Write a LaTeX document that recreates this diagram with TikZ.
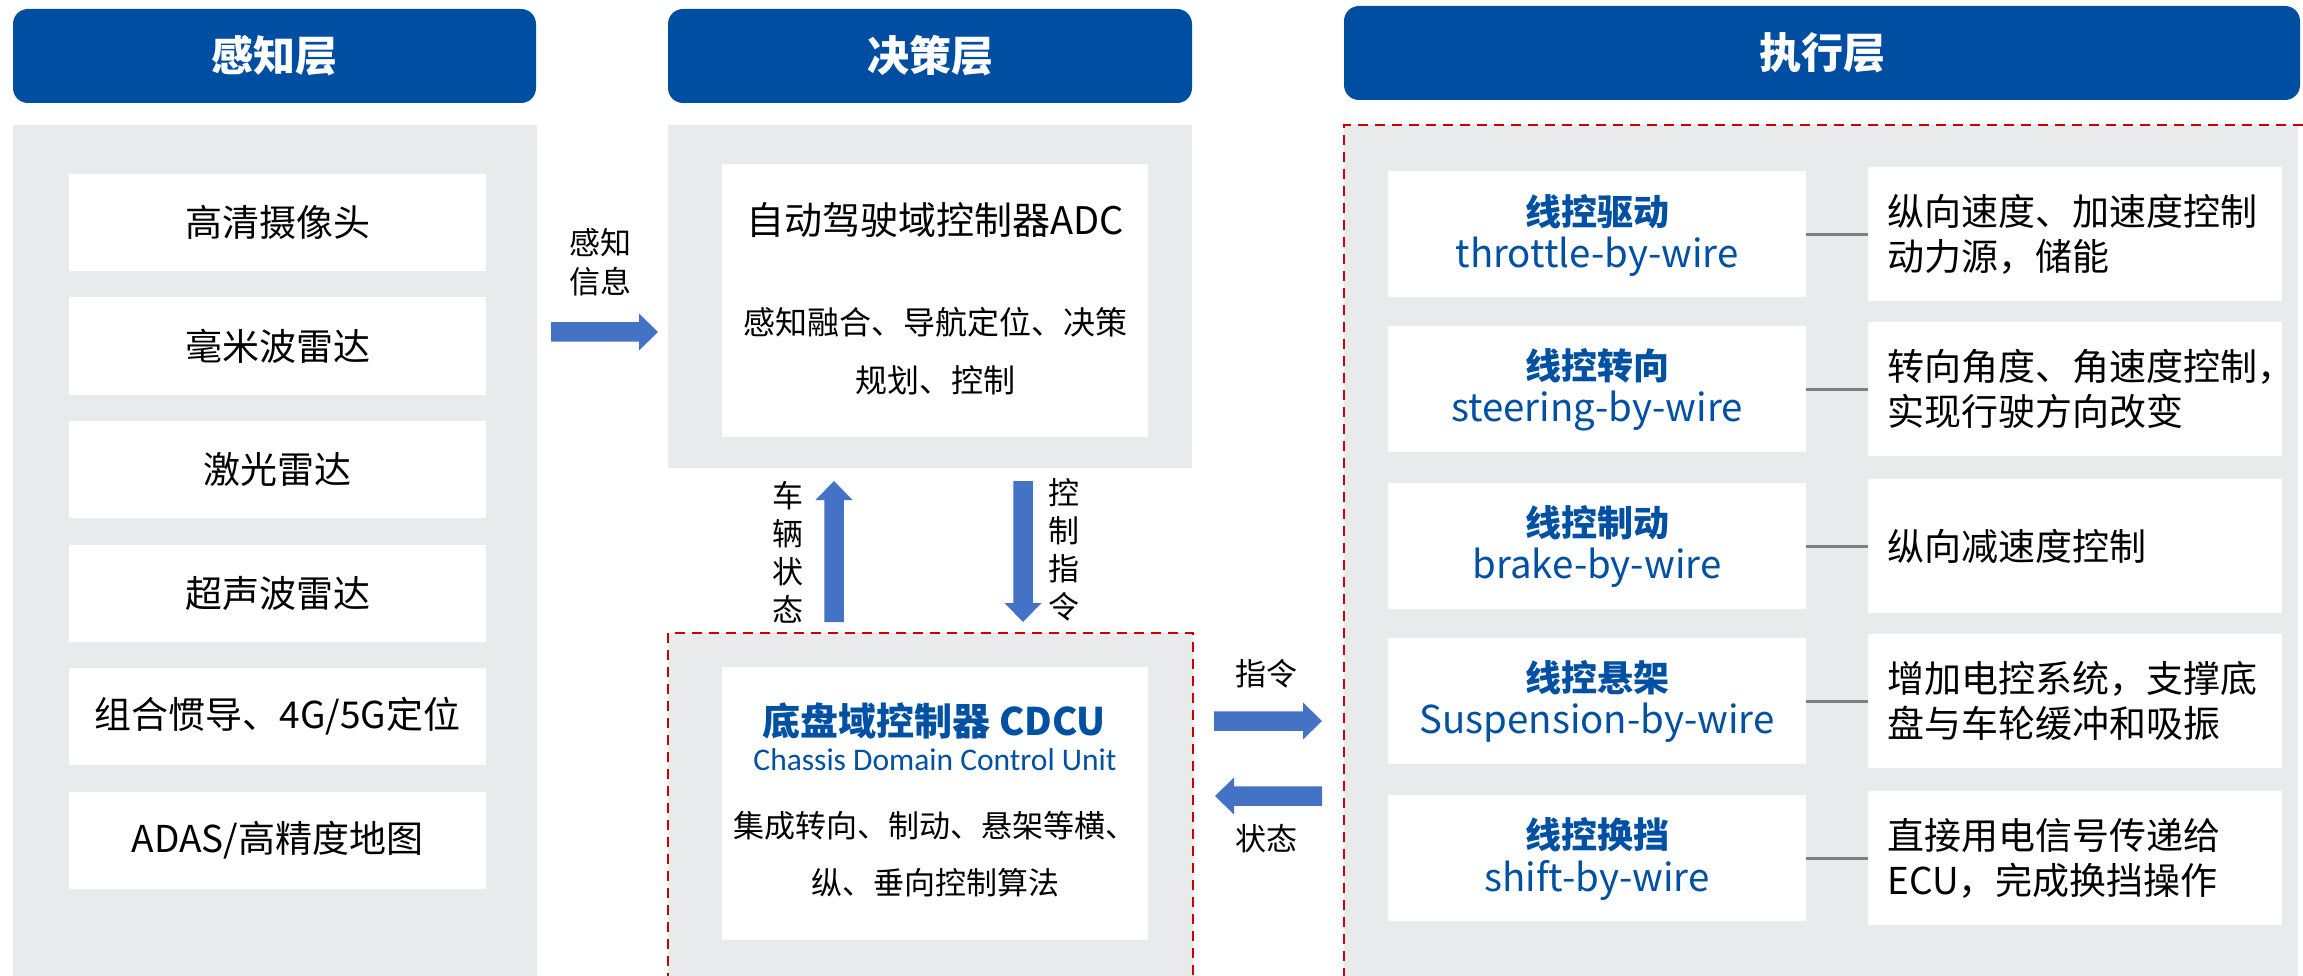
\documentclass[tikz,border=0pt]{standalone}
\usepackage{fontspec}
\setmainfont{Noto Sans CJK SC}
\newfontfamily\calib{Carlito}
\usetikzlibrary{calc}
\definecolor{hdrblue}{RGB}{0,78,162}
\definecolor{txtblue}{RGB}{0,80,164}
\definecolor{arrblue}{RGB}{68,114,196}
\definecolor{panelgray}{RGB}{233,234,236}
\definecolor{dashred}{RGB}{200,0,0}
\definecolor{linegray}{RGB}{127,127,127}
\newcommand{\fsz}[2]{\fontsize{#1}{#2}\selectfont}
\def\baSW{9.75}
\def\baHW{18.5}
\def\baHL{19}
% block arrow from coordinate #1 to coordinate #2, direction (#3,#4)
\newcommand{\blockarrow}[4]{%
  \fill[arrblue]
  ($(#1)+({-(#4)*\baSW},{(#3)*\baSW})$) --
  ($(#2)+({-\baHL*(#3)-(#4)*\baSW},{-\baHL*(#4)+(#3)*\baSW})$) --
  ($(#2)+({-\baHL*(#3)-(#4)*\baHW},{-\baHL*(#4)+(#3)*\baHW})$) --
  (#2) --
  ($(#2)+({-\baHL*(#3)+(#4)*\baHW},{-\baHL*(#4)-(#3)*\baHW})$) --
  ($(#2)+({-\baHL*(#3)+(#4)*\baSW},{-\baHL*(#4)-(#3)*\baSW})$) --
  ($(#1)+({(#4)*\baSW},{-(#3)*\baSW})$) -- cycle;}
\begin{document}
\begin{tikzpicture}[x=1pt,y=-1pt,
  bx/.style={rectangle, inner sep=0pt, outer sep=0pt},
  hdr/.style={bx, fill=hdrblue, rounded corners=15pt, text=white, font=\bfseries\fsz{42}{50}},
  panel/.style={bx, fill=panelgray},
  dashbox/.style={bx, fill=panelgray, draw=dashred, line width=2.5pt, dash pattern=on 10pt off 7pt},
  wbox/.style={bx, fill=white},
  item/.style={font=\fsz{37}{44}},
  lbl/.style={inner sep=0pt, align=center, font=\fsz{31}{39}},
  vlbl/.style={inner sep=0pt, align=center, font=\fsz{31}{38}},
  ttl/.style={inner sep=0pt, text=txtblue, font=\bfseries\fsz{36}{44}},
  eng/.style={inner sep=0pt, text=txtblue, font=\fsz{38.4}{46}},
  desc/.style={inner sep=0pt, anchor=west, align=left, font=\fsz{37}{45}},
  link/.style={linegray, line width=3pt}
]
\useasboundingbox (0,0) rectangle (2303,976);

% headers
\node[hdr, minimum width=523pt, minimum height=94pt] (h1) at (274.5,56) {感知层};
\node[hdr, minimum width=524pt, minimum height=94pt] (h2) at (930,56) {决策层};
\node[hdr, minimum width=956pt, minimum height=94pt] (h3) at (1822,53) {执行层};

% perception panel
\node[panel, minimum width=524pt, minimum height=851pt] (p1) at (275,550.5) {};
\node[wbox, item, minimum width=417pt, minimum height=97pt] (s1) at (277.5,222.5) {高清摄像头};
\node[wbox, item, minimum width=417pt, minimum height=97pt] (s2) at (277.5,346) {毫米波雷达};
\node[wbox, item, minimum width=417pt, minimum height=97pt] (s3) at (277.5,469.5) {激光雷达};
\node[wbox, item, minimum width=417pt, minimum height=97pt] (s4) at (277.5,593) {超声波雷达};
\node[wbox, item, minimum width=417pt, minimum height=97pt] (s5) at (277.5,716.5) {组合惯导、4G/5G定位};
\node[wbox, item, minimum width=417pt, minimum height=97pt] (s6) at (277.5,840) {ADAS/高精度地图};

% decision panel
\node[panel, minimum width=524pt, minimum height=343pt] (p2) at (930,296.5) {};
\node[wbox, minimum width=426pt, minimum height=273pt] (adc) at (935,300.5) {};
\node[inner sep=0pt, font=\fsz{38}{46}] (adct) at (935,220) {自动驾驶域控制器ADC};
\node[inner sep=0pt, align=center, font=\fsz{32}{58}] (adcd) at (935,351) {感知融合、导航定位、决策\\规划、控制};

% chassis domain controller
\node[dashbox, minimum width=525pt, minimum height=344pt] (p3) at (930.5,805) {};
\node[wbox, minimum width=426pt, minimum height=273pt] (cdcu) at (935,803.5) {};
\node[inner sep=0pt, text=txtblue, font=\bfseries\fsz{38}{46}] (cdcut) at (934,721) {底盘域控制器 CDCU};
\node[inner sep=0pt, text=txtblue, font=\calib\fsz{31.5}{38}] (cdcue) at (935,760) {Chassis Domain Control Unit};
\node[inner sep=0pt, align=center, font=\fsz{31}{57}] (cdcud) at (935,854.5) {集成转向、制动、悬架等横、\\纵、垂向控制算法};

% execution panel
\node[panel, minimum width=954pt, minimum height=852pt] (p4) at (1821,551) {};
\draw[dashred, line width=2.5pt, dash pattern=on 10pt off 7pt] (2303,125) -- (1344,125) -- (1344,977) -- (2303,977);

\foreach \i/\c/\t/\e in {1/234.5/线控驱动/throttle-by-wire, 2/389/线控转向/steering-by-wire, 3/546/线控制动/brake-by-wire, 4/701/线控悬架/Suspension-by-wire, 5/858/线控换挡/shift-by-wire}{
  \node[wbox, minimum width=418pt, minimum height=126pt] (L\i) at (1597,\c) {};
  \node[wbox, minimum width=414pt, minimum height=134pt] (R\i) at (2075,\c) {};
  \node[ttl] (L\i t) at (1597,\c-23) {\t};
  \node[eng] (L\i e) at (1597,\c+22) {\e};
  \draw[link] (L\i.east) -- (R\i.west);
}
\node[desc] (d1) at (1887,234.5) {纵向速度、加速度控制\\动力源，储能};
\node[desc] (d2) at (1887,389) {转向角度、角速度控制，\\实现行驶方向改变};
\node[desc] (d3) at (1887,546) {纵向减速度控制};
\node[desc] (d4) at (1887,701) {增加电控系统，支撑底\\盘与车轮缓冲和吸振};
\node[desc] (d5) at (1887,858) {直接用电信号传递给\\ECU，完成换挡操作};

% arrows
\coordinate (a1s) at (551,332); \coordinate (a1e) at (658,332);
\blockarrow{a1s}{a1e}{1}{0}
\node[lbl] (a1l) at (600,262.5) {感知\\信息};

\coordinate (a2s) at (834,622); \coordinate (a2e) at (834,481);
\blockarrow{a2s}{a2e}{0}{-1}
\node[vlbl] (a2l) at (788,552) {车\\辆\\状\\态};

\coordinate (a3s) at (1023,481); \coordinate (a3e) at (1023,622);
\blockarrow{a3s}{a3e}{0}{1}
\node[vlbl] (a3l) at (1064,550) {控\\制\\指\\令};

\coordinate (a4s) at (1214,721); \coordinate (a4e) at (1322,721);
\blockarrow{a4s}{a4e}{1}{0}
\node[lbl] (a4l) at (1266,674) {指令};

\coordinate (a5s) at (1322,796); \coordinate (a5e) at (1215,796);
\blockarrow{a5s}{a5e}{-1}{0}
\node[lbl] (a5l) at (1266,839) {状态};
\end{tikzpicture}
\end{document}
